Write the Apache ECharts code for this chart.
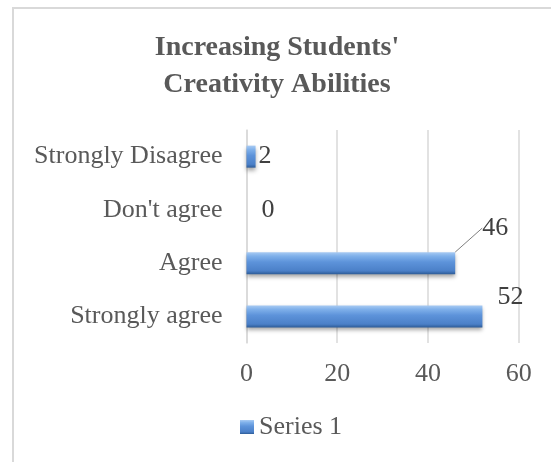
<!DOCTYPE html>
<html>
<head>
<meta charset="utf-8">
<script src="https://cdn.jsdelivr.net/npm/echarts@6/dist/echarts.min.js"></script>
<style>
html,body{margin:0;padding:0;background:#fff;}
#chart{width:551px;height:462px;}
</style>
</head>
<body>
<div id="chart"></div>
<script>
var titleText = "Increasing Students'\nCreativity Abilities";
var categories = ['Strongly agree', 'Agree', "Don't agree", 'Strongly Disagree'];
var values = [52, 46, 0, 2];
var seriesName = 'Series 1';
var xTicks = { min: 0, max: 60, interval: 20 };

var FONT = "'Liberation Serif', 'Times New Roman', serif";
var TXT = '#595959';

var chart = echarts.init(document.getElementById('chart'), null, { renderer: 'canvas' });

var barGradient = new echarts.graphic.LinearGradient(0, 0, 0, 1, [
  { offset: 0, color: '#a9cbf3' },
  { offset: 0.18, color: '#7fb0ea' },
  { offset: 0.45, color: '#5d93da' },
  { offset: 0.85, color: '#4b80c8' },
  { offset: 1, color: '#2d5c98' }
]);

// per-category label placement (style only)
var labelMove = {
  0: { dx: 10, dy: -19, line: false },
  1: { dx: 22, dy: -35, line: true },
  2: { dx: 10, dy: 0, line: false },
  3: { dx: -2, dy: 0, line: false }
};

var data = values.map(function (v, i) {
  return { value: v, labelLine: { show: labelMove[i].line } };
});

var option = {
  backgroundColor: '#ffffff',
  animation: false,
  graphic: [{
    type: 'rect',
    shape: { x: 13, y: 8, width: 600, height: 500 },
    style: { fill: 'none', stroke: '#d9d9d9', lineWidth: 2 },
    silent: true, z: -1
  }],
  title: {
    text: titleText,
    left: 272,
    top: 24,
    textAlign: 'center',
    textStyle: { fontFamily: FONT, fontSize: 28, fontWeight: 'bold', color: TXT, lineHeight: 37 }
  },
  legend: {
    data: [seriesName],
    left: 240,
    top: 414,
    padding: 0,
    itemWidth: 14,
    itemHeight: 14,
    itemGap: 6,
    icon: 'rect',
    textStyle: { fontFamily: FONT, fontSize: 26, color: TXT, padding: [0, 0, 0, 0] }
  },
  grid: { left: 246.5, right: 32.3, top: 130, bottom: 119, containLabel: false },
  xAxis: {
    type: 'value',
    min: xTicks.min, max: xTicks.max, interval: xTicks.interval,
    axisLine: { show: false },
    axisTick: { show: false },
    splitLine: { show: true, lineStyle: { color: '#d9d9d9', width: 1.5 } },
    axisLabel: { fontFamily: FONT, fontSize: 26, color: TXT, margin: 18 }
  },
  yAxis: {
    type: 'category',
    data: categories,
    axisLine: { show: true, lineStyle: { color: '#d9d9d9', width: 1.5 } },
    axisTick: { show: false },
    axisLabel: { fontFamily: FONT, fontSize: 26, color: TXT, margin: 24 }
  },
  series: [{
    name: seriesName,
    type: 'bar',
    data: data,
    barWidth: 22,
    itemStyle: {
      color: barGradient,
      shadowColor: 'rgba(0,0,0,0.35)',
      shadowBlur: 4,
      shadowOffsetY: 3
    },
    label: {
      show: true,
      position: 'right',
      distance: 5,
      fontFamily: FONT,
      fontSize: 26,
      color: '#404040'
    },
    labelLayout: function (params) {
      var m = labelMove[params.dataIndex];
      return { dx: m.dx, dy: m.dy };
    },
    labelLine: { show: false, lineStyle: { color: '#7f7f7f', width: 1 } }
  }]
};
chart.setOption(option);
</script>
</body>
</html>
